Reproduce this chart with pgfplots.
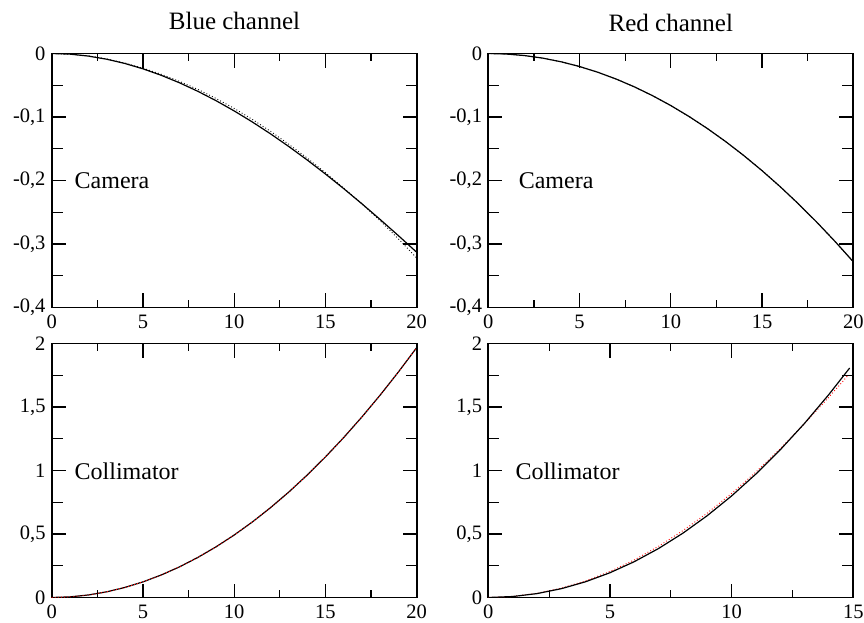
\documentclass[border=0pt]{standalone}
\usepackage{fontspec}
\setmainfont{Liberation Serif}
\usepackage{pgfplots}
\pgfplotsset{compat=1.18}
\usepackage{pgfplotstable}

\pgfplotstableread{
x solid dotted
0 0 0
1 -0.00101 -0.00101
2 -0.00401 -0.00381
3 -0.00891 -0.00851
4 -0.01564 -0.01494
5 -0.02413 -0.02313
6 -0.03431 -0.03271
7 -0.04610 -0.04390
8 -0.05943 -0.05643
9 -0.07423 -0.07073
10 -0.09043 -0.08643
11 -0.10795 -0.10395
12 -0.12671 -0.12271
13 -0.14666 -0.14316
14 -0.16770 -0.16470
15 -0.18978 -0.18778
16 -0.21281 -0.21181
17 -0.23672 -0.23672
18 -0.26145 -0.26345
19 -0.28691 -0.29191
20 -0.31304 -0.32204
}\bluecam

\pgfplotstableread{
x solid
0 0
1 -0.00082
2 -0.00328
3 -0.00738
4 -0.01312
5 -0.0205
6 -0.02952
7 -0.04018
8 -0.05248
9 -0.06642
10 -0.082
11 -0.09922
12 -0.11808
13 -0.13858
14 -0.16072
15 -0.1845
16 -0.20992
17 -0.23698
18 -0.26568
19 -0.29602
20 -0.328
}\redcam

\pgfplotstableread{
x solid
0 0
1 0.00492
2 0.01968
3 0.04428
4 0.07872
5 0.123
6 0.17712
7 0.24108
8 0.31488
9 0.39852
10 0.492
11 0.59532
12 0.70848
13 0.83148
14 0.96432
15 1.107
16 1.25952
17 1.42188
18 1.59408
19 1.77612
20 1.968
}\bluecol

\pgfplotstableread{
x solid
0 0
1 0.00764
2 0.03072
3 0.06948
4 0.12416
5 0.195
6 0.28224
7 0.38612
8 0.50688
9 0.64476
10 0.8
11 0.97284
12 1.16352
13 1.37228
14 1.59936
14.85 1.807
}\redcolsolid

\pgfplotstableread{
x dotted
0 0
1 0.008
2 0.033
3 0.074
4 0.131
5 0.205
6 0.296
7 0.404
8 0.527
9 0.665
10 0.820
11 0.988
12 1.172
13 1.370
14 1.578
14.77 1.746
}\redcoldot

\pgfplotsset{
  panel/.style={
    scale only axis, width=365pt, height=254pt,
    anchor=south west,
    axis line style={line width=1.8pt},
    every tick/.style={line width=1.2pt, black},
    major tick length=14pt, minor tick length=7.5pt,
    tick align=inside,
    xtick pos=both, ytick pos=both,
    xticklabel pos=lower, yticklabel pos=left,
    tick label style={font=\fontsize{20.5}{24}\selectfont},
    yticklabel style={anchor=east, inner sep=0pt, xshift=-6pt},
    xticklabel style={anchor=north, inner sep=0pt, yshift=-7pt},
    minor x tick num=1,
    minor y tick num=0,
    extra y tick labels={},
    extra y tick style={major tick length=11pt},
  },
  camy/.style={
    ymin=-0.4, ymax=0,
    ytick={-0.4,-0.3,-0.2,-0.1,0},
    yticklabels={{-0,4},{-0,3},{-0,2},{-0,1},{0}},
    extra y ticks={-0.35,-0.25,-0.15,-0.05},
  },
  coly/.style={
    ymin=0, ymax=2,
    ytick={0,0.5,1,1.5,2},
    yticklabels={{0},{0,5},{1},{1,5},{2}},
    extra y ticks={0.25,0.75,1.25,1.75},
  },
  x20/.style={xmin=0, xmax=20, xtick={0,5,10,15,20}, xticklabels={0,5,10,15,20}},
  x15/.style={xmin=0, xmax=15, xtick={0,5,10,15}, xticklabels={0,5,10,15}},
  solidline/.style={black, line width=1.2pt, no marks},
  dotline/.style={no marks, line width=0.9pt, dash pattern=on 0.9pt off 2.2pt},
}

\begin{document}
\begin{tikzpicture}
\path[use as bounding box] (0,0) rectangle (864pt,622pt);

\node[font=\fontsize{25}{30}\selectfont, anchor=base, inner sep=0pt] at (234.5pt,592.7pt) {Blue channel};
\node[font=\fontsize{25}{30}\selectfont, anchor=base, inner sep=0pt] at (670.8pt,590.5pt) {Red channel};

% top-left
\begin{axis}[panel, camy, x20, at={(51.7pt,314.5pt)}]
  \addplot[solidline] table[x=x, y=solid] {\bluecam};
  \addplot[dotline, black] table[x=x, y=dotted] {\bluecam};
  \node[anchor=west, inner sep=0pt, font=\fontsize{24}{28}\selectfont] at (axis cs:1.25,-0.2) {Camera};
\end{axis}

% top-right
\begin{axis}[panel, camy, x20, at={(488.3pt,314.5pt)}]
  \addplot[solidline] table[x=x, y=solid] {\redcam};
  \addplot[dotline, black] table[x=x, y=solid] {\redcam};
  \node[anchor=west, inner sep=0pt, font=\fontsize{24}{28}\selectfont] at (axis cs:1.66,-0.2) {Camera};
\end{axis}

% bottom-left
\begin{axis}[panel, coly, x20, at={(51.7pt,24.5pt)}]
  \addplot[solidline] table[x=x, y=solid] {\bluecol};
  \addplot[dotline, red] table[x=x, y=solid] {\bluecol};
  \node[anchor=west, inner sep=0pt, font=\fontsize{24}{28}\selectfont] at (axis cs:1.25,0.99) {Collimator};
\end{axis}

% bottom-right
\begin{axis}[panel, coly, x15, at={(488.3pt,24.5pt)}]
  \addplot[dotline, red] table[x=x, y=dotted] {\redcoldot};
  \addplot[solidline] table[x=x, y=solid] {\redcolsolid};
  \node[anchor=west, inner sep=0pt, font=\fontsize{24}{28}\selectfont] at (axis cs:1.11,0.99) {Collimator};
\end{axis}
\end{tikzpicture}
\end{document}
